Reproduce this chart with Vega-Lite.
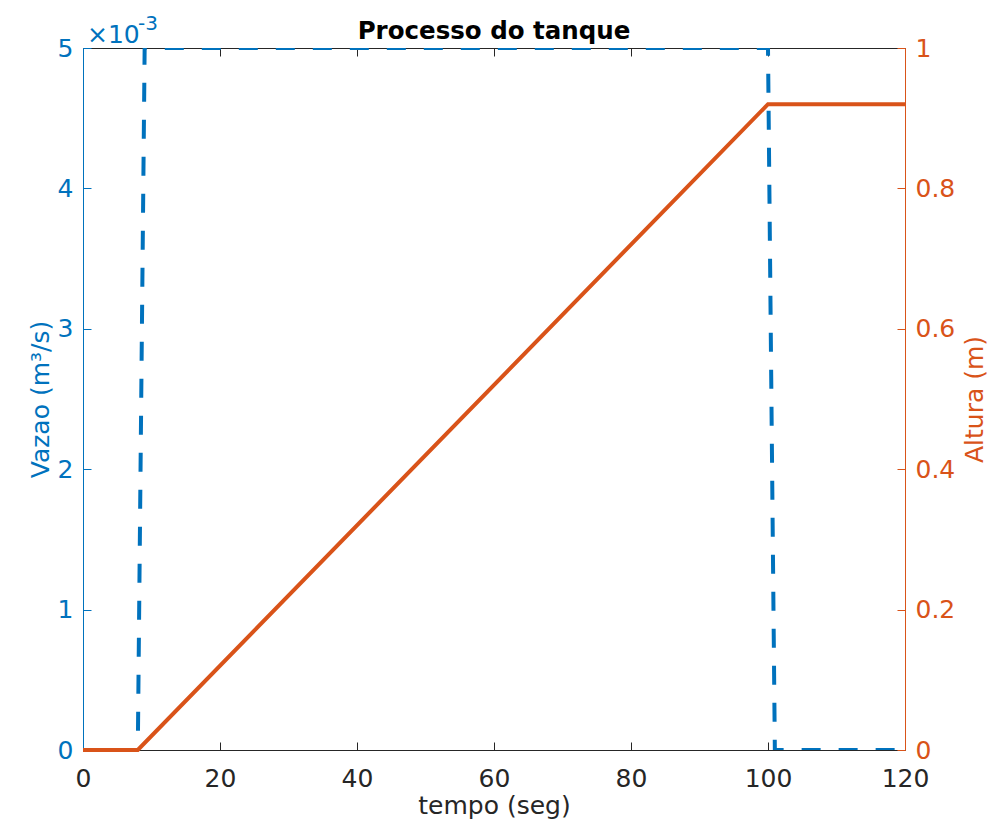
{
  "$schema": "https://vega.github.io/schema/vega-lite/v6.json",
  "width": 822,
  "height": 702,
  "autosize": {"type": "none"},
  "padding": {"left": 83, "top": 48, "right": 87, "bottom": 78},
  "background": "white",
  "config": {
    "view": {"stroke": null},
    "font": "DejaVu Sans",
    "axis": {
      "grid": false,
      "labelFont": "DejaVu Sans",
      "titleFont": "DejaVu Sans",
      "labelFontSize": 25,
      "titleFontSize": 25,
      "titleFontWeight": "normal",
      "tickSize": -8,
      "tickWidth": 1,
      "domainWidth": 1,
      "labelFlush": false,
      "labelOverlap": false
    }
  },
  "title": {
    "text": "Processo do tanque",
    "font": "DejaVu Sans",
    "fontSize": 24.5,
    "fontWeight": "bold",
    "color": "#000000",
    "anchor": "middle",
    "offset": -30
  },
  "datasets": {
    "vazao": [
      {"t": 0, "q": 0},
      {"t": 8, "q": 0},
      {"t": 9, "q": 0.005},
      {"t": 100, "q": 0.005},
      {"t": 101, "q": 0},
      {"t": 120, "q": 0}
    ],
    "altura": [
      {"t": 0, "h": 0},
      {"t": 8, "h": 0},
      {"t": 100, "h": 0.92},
      {"t": 120, "h": 0.92}
    ],
    "expoente": [
      {"t": 0, "q": 0.005, "base": "×10", "exp": "-3"}
    ]
  },
  "layer": [
    {
      "data": {"name": "vazao"},
      "mark": {"type": "line", "color": "#0072BD", "strokeWidth": 4, "strokeDash": [19, 18], "clip": true},
      "encoding": {
        "x": {
          "field": "t", "type": "quantitative",
          "scale": {"domain": [0, 120], "nice": false, "zero": false},
          "axis": {
            "orient": "bottom",
            "values": [0, 20, 40, 60, 80, 100, 120],
            "title": "tempo (seg)",
            "labelColor": "#262626",
            "titleColor": "#262626",
            "domainColor": "#262626",
            "tickColor": "#262626",
            "labelPadding": 24,
            "titlePadding": 2
          }
        },
        "y": {
          "field": "q", "type": "quantitative",
          "scale": {"domain": [0, 0.005], "nice": false, "zero": false},
          "axis": {
            "orient": "left",
            "values": [0, 0.001, 0.002, 0.003, 0.004, 0.005],
            "labelExpr": "'' + round(datum.value * 1000)",
            "title": "Vazao (m³/s)",
            "labelColor": "#0072BD",
            "titleColor": "#0072BD",
            "domainColor": "#0072BD",
            "tickColor": "#0072BD",
            "labelPadding": 18,
            "titlePadding": 4
          }
        }
      }
    },
    {
      "data": {"name": "altura"},
      "mark": {"type": "line", "color": "#D95319", "strokeWidth": 4},
      "encoding": {
        "x": {
          "field": "t", "type": "quantitative",
          "axis": {
            "orient": "top",
            "values": [0, 20, 40, 60, 80, 100, 120],
            "labels": false,
            "title": null,
            "domainColor": "#262626",
            "tickColor": "#262626"
          }
        },
        "y": {
          "field": "h", "type": "quantitative",
          "scale": {"domain": [0, 1], "nice": false, "zero": false},
          "axis": {
            "orient": "right",
            "values": [0, 0.2, 0.4, 0.6, 0.8, 1],
            "format": "~g",
            "title": "Altura (m)",
            "titleAngle": -90,
            "titleBaseline": "top",
            "labelColor": "#D95319",
            "titleColor": "#D95319",
            "domainColor": "#D95319",
            "tickColor": "#D95319",
            "labelPadding": 18,
            "titlePadding": 8
          }
        }
      }
    },
    {
      "data": {"name": "expoente"},
      "mark": {"type": "text", "align": "left", "baseline": "alphabetic", "dx": 4, "dy": -5, "fontSize": 25, "color": "#0072BD", "font": "DejaVu Sans"},
      "encoding": {
        "x": {"field": "t", "type": "quantitative", "axis": null},
        "y": {"field": "q", "type": "quantitative", "scale": {"domain": [0, 0.005], "nice": false}, "axis": null},
        "text": {"field": "base"}
      }
    },
    {
      "data": {"name": "expoente"},
      "mark": {"type": "text", "align": "left", "baseline": "alphabetic", "dx": 55, "dy": -18, "fontSize": 20, "color": "#0072BD", "font": "DejaVu Sans"},
      "encoding": {
        "x": {"field": "t", "type": "quantitative", "axis": null},
        "y": {"field": "q", "type": "quantitative", "scale": {"domain": [0, 0.005], "nice": false}, "axis": null},
        "text": {"field": "exp"}
      }
    }
  ],
  "resolve": {
    "scale": {"y": "independent"},
    "axis": {"x": "independent", "y": "independent"}
  }
}
